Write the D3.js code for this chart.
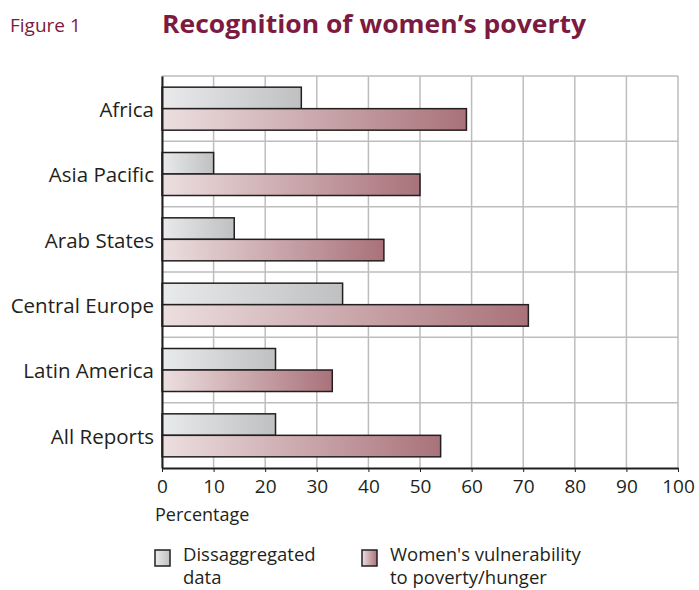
<!DOCTYPE html>
<html>
<head>
<meta charset="utf-8">
<script src="https://cdn.jsdelivr.net/npm/d3@7"></script>
<style>
  body { margin: 0; background: #fff; }
  svg text { font-family: "Open Sans", "Noto Sans", sans-serif; fill: #231f20; }
</style>
</head>
<body>
<div id="chart"></div>
<script>
// Recognition of women's poverty - grouped horizontal bars

const regions = ["Africa", "Asia Pacific", "Arab States", "Central Europe", "Latin America", "All Reports"];
const disaggregated = [27, 10, 14, 35, 22, 22];
const vulnerability = [59, 50, 43, 71, 33, 54];
const xTicks = [0, 10, 20, 30, 40, 50, 60, 70, 80, 90, 100];

const W = 699, H = 590;
const margin = { top: 76, right: 21, bottom: 122, left: 162 };
const width = W - margin.left - margin.right;
const height = H - margin.top - margin.bottom;
const maroon = "#7d1a3f";

const svg = d3.select("#chart").append("svg")
  .attr("width", W)
  .attr("height", H);

const defs = svg.append("defs");

function addGradient(id, from, to) {
  const g = defs.append("linearGradient")
    .attr("id", id)
    .attr("x1", "0%").attr("x2", "100%")
    .attr("y1", "0%").attr("y2", "0%");
  g.append("stop").attr("offset", "0%").attr("stop-color", from);
  g.append("stop").attr("offset", "100%").attr("stop-color", to);
}
addGradient("greyGrad", "#e9eaeb", "#bfc0c2");
addGradient("pinkGrad", "#ecdfe0", "#a9727a");

// titles
svg.append("text")
  .attr("x", 10).attr("y", 32)
  .style("font-size", "19px")
  .style("fill", maroon)
  .text("Figure 1");

svg.append("text")
  .attr("x", 162).attr("y", 33)
  .attr("textLength", 424)
  .attr("lengthAdjust", "spacingAndGlyphs")
  .style("font-size", "25px")
  .style("font-weight", "bold")
  .style("fill", maroon)
  .text("Recognition of women\u2019s poverty");

const chart = svg.append("g")
  .attr("transform", `translate(${margin.left},${margin.top})`);

const x = d3.scaleLinear().domain([0, 100]).range([0, width]);
const y = d3.scaleBand().domain(regions).range([0, height]).paddingInner(0).paddingOuter(0);

// grid
chart.append("g")
  .selectAll("line.vgrid")
  .data(xTicks)
  .join("line")
  .attr("class", "vgrid")
  .attr("x1", d => x(d)).attr("x2", d => x(d))
  .attr("y1", 0).attr("y2", height)
  .attr("stroke", "#bdbdbd")
  .attr("stroke-width", 1.5);

chart.append("g")
  .selectAll("line.hgrid")
  .data(regions)
  .join("line")
  .attr("class", "hgrid")
  .attr("x1", 0).attr("x2", width)
  .attr("y1", d => y(d)).attr("y2", d => y(d))
  .attr("stroke", "#bdbdbd")
  .attr("stroke-width", 1.5);

// bars
const barH = 21.5;
const groupOffset = (y.bandwidth() - barH * 2) / 2;

chart.append("g")
  .selectAll("rect.grey")
  .data(regions)
  .join("rect")
  .attr("class", "grey")
  .attr("x", 0)
  .attr("y", d => y(d) + groupOffset)
  .attr("width", (d, i) => x(disaggregated[i]))
  .attr("height", barH)
  .attr("fill", "url(#greyGrad)")
  .attr("stroke", "#231f20")
  .attr("stroke-width", 1.5);

chart.append("g")
  .selectAll("rect.pink")
  .data(regions)
  .join("rect")
  .attr("class", "pink")
  .attr("x", 0)
  .attr("y", d => y(d) + groupOffset + barH)
  .attr("width", (d, i) => x(vulnerability[i]))
  .attr("height", barH)
  .attr("fill", "url(#pinkGrad)")
  .attr("stroke", "#231f20")
  .attr("stroke-width", 1.5);

// axes
const yAxis = chart.append("g")
  .call(d3.axisLeft(y).tickSize(0).tickPadding(8));
yAxis.select(".domain").attr("stroke", "#231f20").attr("stroke-width", 2);
yAxis.selectAll(".tick text")
  .style("font-size", "20.5px")
  .attr("dy", "0.4em");

const xAxis = chart.append("g")
  .attr("transform", `translate(0,${height})`)
  .call(d3.axisBottom(x).tickValues(xTicks).tickSize(4).tickSizeOuter(0).tickPadding(8));
xAxis.select(".domain").attr("stroke", "#231f20").attr("stroke-width", 2);
xAxis.selectAll(".tick line").attr("stroke", "#231f20");
xAxis.selectAll(".tick text")
  .style("font-size", "19px");

svg.append("text")
  .attr("x", 155).attr("y", 521)
  .style("font-size", "18px")
  .text("Percentage");

// legend
const legendItems = [
  { lines: ["Dissaggregated", "data"], x: 155, grad: "greyGrad" },
  { lines: ["Women's vulnerability", "to poverty/hunger"], x: 362, grad: "pinkGrad" }
];

const legend = svg.append("g");
legendItems.forEach(item => {
  legend.append("rect")
    .attr("x", item.x).attr("y", 550)
    .attr("width", 15).attr("height", 16)
    .attr("fill", `url(#${item.grad})`)
    .attr("stroke", "#231f20")
    .attr("stroke-width", 1.5);
  item.lines.forEach((t, j) => {
    legend.append("text")
      .attr("x", item.x + 28).attr("y", 561 + j * 23)
      .style("font-size", "18.5px")
      .text(t);
  });
});
</script>
</body>
</html>
